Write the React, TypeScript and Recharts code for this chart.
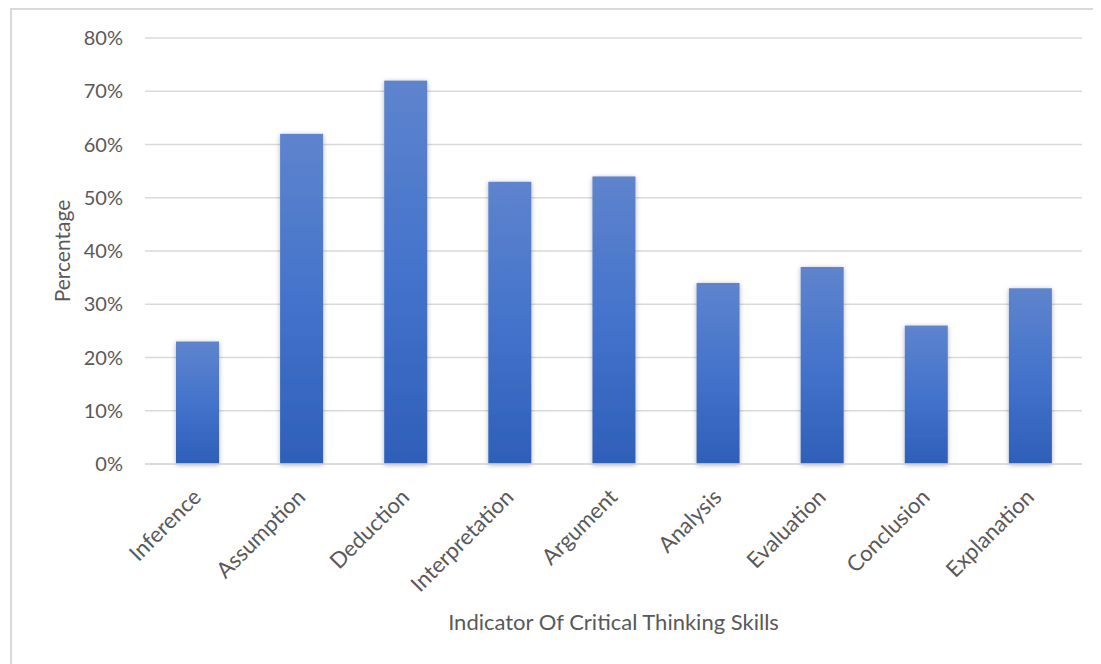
import React from 'react'
import { BarChart, Bar, XAxis, YAxis, CartesianGrid, Label } from 'recharts'

const skills = [
    'Inference',
    'Assumption',
    'Deduction',
    'Interpretation',
    'Argument',
    'Analysis',
    'Evaluation',
    'Conclusion',
    'Explanation'
]
const percentages = [23, 62, 72, 53, 54, 34, 37, 26, 33]
const yTicks = [0, 10, 20, 30, 40, 50, 60, 70, 80]

const data = skills.map((name, i) => ({ name, value: percentages[i] }))

const FONT = 'Lato, "Open Sans", sans-serif'
const TEXT = '#595959'
const GRID = '#d9d9d9'

const AngledTick = ({ x, y, payload }: any) => (
    <g transform={`translate(${x},${y + 27})`}>
        <text
            x={0}
            y={0}
            dy="0.35em"
            textAnchor="end"
            transform="rotate(-45)"
            fill={TEXT}
            fontSize={22}
            fontFamily={FONT}
        >
            {payload.value}
        </text>
    </g>
)

const ShadowBar = ({ x, y, width, height }: any) => (
    <rect x={x} y={y} width={width} height={height} fill="url(#barGradient)" filter="url(#barShadow)" />
)

const YTitle = ({ viewBox }: any) => {
    const cx = viewBox.x + 16
    const cy = viewBox.y + viewBox.height / 2
    return (
        <text
            x={cx}
            y={cy}
            textAnchor="middle"
            dominantBaseline="central"
            transform={`rotate(-90, ${cx}, ${cy})`}
            fill={TEXT}
            fontSize={21}
            fontFamily={FONT}
        >
            Percentage
        </text>
    )
}

export default function App() {
    return (
        <div
            style={{
                marginLeft: 2,
                width: 1091,
                height: 656,
                boxSizing: 'border-box',
                borderTop: `2px solid ${GRID}`,
                borderLeft: `2px solid ${GRID}`,
                overflow: 'hidden',
                background: '#fff'
            }}
        >
            <BarChart
                width={1089}
                height={654}
                data={data}
                margin={{ top: 28, right: 19, left: 33, bottom: 30 }}
            >
                <defs>
                    <linearGradient id="barGradient" x1="0" y1="0" x2="0" y2="1">
                        <stop offset="0%" stopColor="#5e84cd" />
                        <stop offset="50%" stopColor="#4473cb" />
                        <stop offset="100%" stopColor="#2e5fb9" />
                    </linearGradient>
                    <filter id="barShadow" x="-30%" y="-10%" width="160%" height="120%">
                        <feDropShadow dx="0" dy="1" stdDeviation="2.5" floodColor="#000" floodOpacity="0.3" />
                    </filter>
                </defs>
                <CartesianGrid vertical={false} stroke={GRID} strokeWidth={1.5} />
                <XAxis
                    dataKey="name"
                    interval={0}
                    height={170}
                    tickSize={0}
                    tickLine={false}
                    axisLine={{ stroke: GRID, strokeWidth: 1.5 }}
                    tick={<AngledTick />}
                >
                    <Label
                        value="Indicator Of Critical Thinking Skills"
                        position="insideBottom"
                        offset={4}
                        fill={TEXT}
                        fontSize={22}
                        fontFamily={FONT}
                    />
                </XAxis>
                <YAxis
                    width={100}
                    domain={[0, 80]}
                    ticks={yTicks}
                    tickFormatter={(v: number) => `${v}%`}
                    axisLine={false}
                    tickLine={false}
                    tickSize={0}
                    tickMargin={22}
                    tick={{ fill: TEXT, fontSize: 20, fontFamily: FONT }}
                >
                    <Label content={<YTitle />} />
                </YAxis>
                <Bar dataKey="value" barSize={43} shape={<ShadowBar />} isAnimationActive={false} />
            </BarChart>
        </div>
    )
}
